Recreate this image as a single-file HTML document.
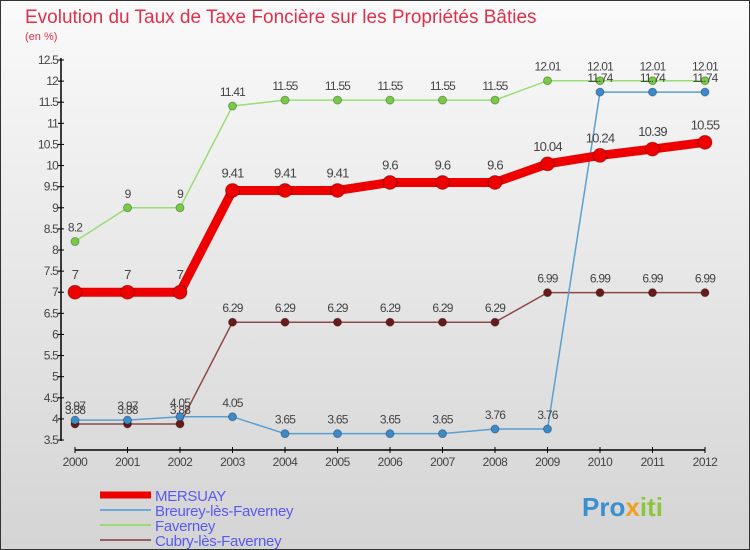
<!DOCTYPE html>
<html><head><meta charset="utf-8"><style>
body{margin:0}
svg{display:block;font-family:"Liberation Sans",sans-serif}
</style></head><body>
<svg id="c" width="750" height="550" viewBox="0 0 750 550">
<defs><linearGradient id="bg" x1="0" y1="0" x2="0" y2="1"><stop offset="0" stop-color="#fafafa"/><stop offset="1" stop-color="#d4d4d4"/></linearGradient></defs>
<rect x="0.5" y="0.5" width="749" height="549" fill="url(#bg)" stroke="#333"/>
<text x="25" y="23" font-size="19" fill="#e0304a">Evolution du Taux de Taxe Foncière sur les Propriétés Bâties</text>
<text x="25" y="40" font-size="11" fill="#e0304a">(en %)</text>
<g id="axes"></g><g id="series"></g><g id="legend"></g>
<text x="582" y="516" font-size="26" font-weight="bold" fill="#3a8fd0">Pro<tspan fill="#f0a020">x</tspan><tspan fill="#8cc63e">iti</tspan></text>
</svg>
<script>
const years=[2000,2001,2002,2003,2004,2005,2006,2007,2008,2009,2010,2011,2012];
const yTicks=[3.5,4,4.5,5,5.5,6,6.5,7,7.5,8,8.5,9,9.5,10,10.5,11,11.5,12,12.5];
const mersuay=[7,7,7,9.41,9.41,9.41,9.6,9.6,9.6,10.04,10.24,10.39,10.55];
const breurey=[3.97,3.97,4.05,4.05,3.65,3.65,3.65,3.65,3.76,3.76,11.74,11.74,11.74];
const faverney=[8.2,9,9,11.41,11.55,11.55,11.55,11.55,11.55,12.01,12.01,12.01,12.01];
const cubry=[3.88,3.88,3.88,6.29,6.29,6.29,6.29,6.29,6.29,6.99,6.99,6.99,6.99];
const NS="http://www.w3.org/2000/svg";
const X=i=>75+i*52.5, Y=v=>440-(v-3.5)*(380/9);
function mk(t,a,p){const e=document.createElementNS(NS,t);for(const k in a)e.setAttribute(k,a[k]);p.appendChild(e);return e;}
const ax=document.getElementById('axes');
let l=mk('line',{x1:61,y1:58,x2:61,y2:441,stroke:'#000','stroke-width':1.5},ax);

l=mk('line',{x1:75,y1:450,x2:705,y2:450,stroke:'#000','stroke-width':1.5},ax);

yTicks.forEach((v,i)=>{const y=Y(v);
 mk('line',{x1:58,y1:y,x2:64,y2:y,stroke:'#000'},ax);
 if(i<yTicks.length-1)mk('line',{x1:58,y1:y-21.1,x2:61,y2:y-21.1,stroke:'#e00'},ax);
 const t=mk('text',{x:58,y:y+4,'font-size':12,'text-anchor':'end',fill:'#444','letter-spacing':'-0.8'},ax);t.textContent=String(v);
 });
years.forEach((yr,i)=>{const x=X(i);
 mk('line',{x1:x,y1:447,x2:x,y2:453,stroke:'#000'},ax);
 const t=mk('text',{x:x,y:466,'font-size':12,'text-anchor':'middle',fill:'#444','letter-spacing':'-0.5'},ax);t.textContent=yr;
 });
const sg=document.getElementById('series');
function series(name,data,color,dot,w,r,fs){
 const g=mk('g',{},sg);
 const pl=mk('polyline',{points:data.map((v,i)=>X(i)+','+Y(v)).join(' '),fill:'none',stroke:color,'stroke-width':w,'stroke-linejoin':'round'},g);
 
 data.forEach((v,i)=>{const c=mk('circle',{cx:X(i),cy:Y(v),r:r,fill:dot,stroke:'rgba(0,0,0,0.3)'},g);
  
  const t=mk('text',{x:X(i),y:Y(v)-r-6,'font-size':fs,'text-anchor':'middle',fill:'#444','letter-spacing':'-0.8'},g);t.textContent=String(v);
  });
}
series('faverney',faverney,'#99dd77','#77cc44',1.5,4,12);
series('cubry',cubry,'#8b4a4a','#6a1a1a',1.5,4,12);
series('breurey',breurey,'#5aa0d0','#3a8acc',1.5,4,12);
series('mersuay',mersuay,'#ee0000','#ee0000',9,7,13);
const lg=document.getElementById('legend');
[['MERSUAY','#ee0000',7],['Breurey-lès-Faverney','#6aaad8',2],['Faverney','#99dd77',2],['Cubry-lès-Faverney','#9a6060',2]].forEach((d,i)=>{
 const y=493+i*15;
 const ln=mk('line',{x1:100,y1:y+2,x2:151,y2:y+2,stroke:d[1],'stroke-width':d[2]},lg);
 
 const t=mk('text',{x:155,y:y+8,'font-size':15,fill:'#5a5aee','letter-spacing':'-0.3'},lg);t.textContent=d[0];
 });
</script>
</body></html>
